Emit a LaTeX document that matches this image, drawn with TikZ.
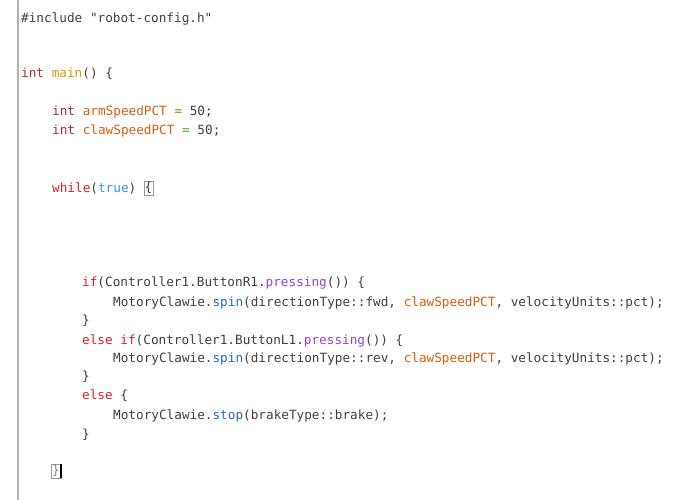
\documentclass[tikz,border=0pt]{standalone}
\usepackage{fontspec}
\setmonofont{DejaVu Sans Mono}
\usetikzlibrary{positioning}
\definecolor{cpre}{HTML}{404040}
\definecolor{ctype}{HTML}{A8322A}
\definecolor{cfunc}{HTML}{C9A100}
\definecolor{cvar}{HTML}{D2600F}
\definecolor{cop}{HTML}{4FA51A}
\definecolor{ckey}{HTML}{D9202A}
\definecolor{cbool}{HTML}{3E96E6}
\definecolor{cmeth}{HTML}{9445C8}
\definecolor{ccall}{HTML}{2767C2}
\newcommand{\ty}[1]{\textcolor{ctype}{#1}}
\newcommand{\kw}[1]{\textcolor{ckey}{#1}}
\newcommand{\vr}[1]{\textcolor{cvar}{#1}}
\newcommand{\mt}[1]{\textcolor{cmeth}{#1}}
\newcommand{\cl}[1]{\textcolor{ccall}{#1}}
\tikzset{code/.style={anchor=west, inner sep=0pt, text=cpre, font=\ttfamily\fontsize{12.7}{14}\selectfont}}
\begin{document}
\begin{tikzpicture}[x=1pt, y=-1pt]
	\useasboundingbox[fill=white] (0,0) rectangle (690,500);
	\draw[gray!60, line width=2pt] (18,0) -- (18,500);
	\node[code] at (21,19) (l1) {\#include "robot-config.h"};
	\node[code] at (21,74) (l2) {\ty{int} \textcolor{cfunc}{main}() \{};
	\node[code] at (52,112) (l3) {\ty{int} \vr{armSpeedPCT} \textcolor{cop}{=} 50;};
	\node[code] at (52,131) (l4) {\ty{int} \vr{clawSpeedPCT} \textcolor{cop}{=} 50;};
	\node[code] at (52,188) (l5) {\kw{while}(\textcolor{cbool}{true})};
	\node[code, draw=gray!80, inner sep=1pt, right=7pt of l5] (lb) {\{};
	\node[code] at (82,283) (l6) {\kw{if}(Controller1.ButtonR1.\mt{pressing}()) \{};
	\node[code] at (113,303) (l7) {MotoryClawie.\cl{spin}(directionType::fwd, \vr{clawSpeedPCT}, velocityUnits::pct);};
	\node[code] at (82,321) (l8) {\}};
	\node[code] at (82,341) (l9) {\kw{else} \kw{if}(Controller1.ButtonL1.\mt{pressing}()) \{};
	\node[code] at (113,359) (l10) {MotoryClawie.\cl{spin}(directionType::rev, \vr{clawSpeedPCT}, velocityUnits::pct);};
	\node[code] at (82,377) (l11) {\}};
	\node[code] at (82,396) (l12) {\kw{else} \{};
	\node[code] at (113,416) (l13) {MotoryClawie.\cl{stop}(brakeType::brake);};
	\node[code] at (82,435) (l14) {\}};
	\node[code, draw=gray!80, inner sep=1pt, text=gray] at (51,471) (rb) {\}};
	\draw[black, line width=1.5pt] (rb.north east) -- (rb.south east);
\end{tikzpicture}
\end{document}
